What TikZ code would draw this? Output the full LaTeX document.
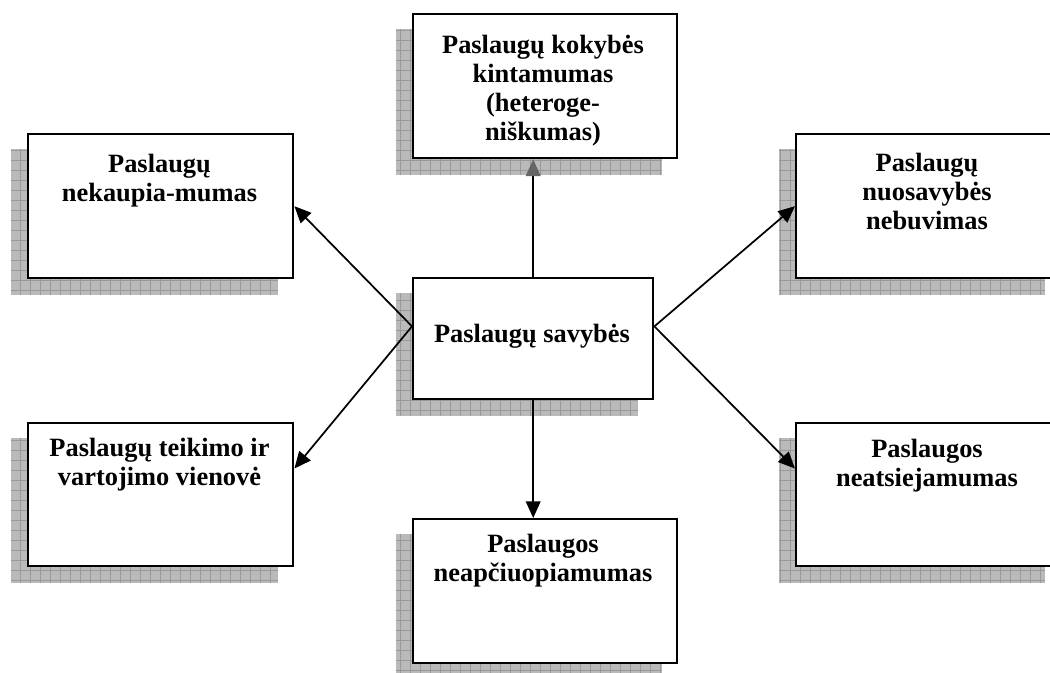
\documentclass[tikz,border=0pt]{standalone}
\usepackage{fontspec}
\setmainfont{Liberation Serif}
\usetikzlibrary{arrows.meta,calc}
\pgfdeclarelayer{background}
\pgfsetlayers{background,main}

\tikzset{
  box/.style={draw=black, line width=1.8pt, fill=white, inner sep=0pt, rectangle, anchor=north west},
  wide/.style={minimum width=198pt, minimum height=108pt},
  caption/.style={font=\fontsize{19.8pt}{21.75pt}\selectfont\bfseries, align=center, anchor=north, inner sep=0pt},
  link/.style={line width=1.3pt, -{Triangle[length=12.5pt,width=11pt]}},
  shadowfill/.style={fill=black!27},
  shadowgrid/.style={draw=black!40, line width=0.35pt},
}

\begin{document}
\begin{tikzpicture}[x=0.75pt,y=-0.75pt]
\useasboundingbox (0,0) rectangle (1050,672);
\clip (0,0) rectangle (1050,672);

% boxes
\node[box, wide] (bt) at (412,13) {};
\node[box, wide, minimum width=198.75pt] (lt) at (27,133) {};
\node[box, wide] (rt) at (795,133) {};
\node[box, minimum width=180pt, minimum height=90.75pt] (c) at (412,277) {};
\node[box, wide, minimum width=198.75pt, minimum height=107.25pt] (lb) at (27,422) {};
\node[box, wide, minimum height=107.25pt] (rb) at (795,422) {};
\node[box, wide] (bb) at (412,518) {};

% captions
\node[caption] (bt-t) at (543,35) {Paslaugų kokybės\\kintamumas\\(heteroge-\\niškumas)};
\node[caption] (lt-t) at (159.5,154) {Paslaugų\\nekaupia-mumas};
\node[caption] (rt-t) at (927,153) {Paslaugų\\nuosavybės\\nebuvimas};
\node[caption] (c-t) at (532,324) {Paslaugų savybės};
\node[caption] (lb-t) at (159.5,438) {Paslaugų teikimo ir\\vartojimo vienovė};
\node[caption] (rb-t) at (927,439) {Paslaugos\\neatsiejamumas};
\node[caption] (bb-t) at (543,534) {Paslaugos\\neapčiuopiamumas};

% connectors
\coordinate (cw) at ($(c.north west)!0.4!(c.south west)$);
\coordinate (ce) at ($(c.north east)!0.4!(c.south east)$);
\draw[line width=1.3pt, -{Triangle[length=12.5pt,width=11pt,color=black!60]}] (c.north) -- (c.north |- bt.south);
\draw[link] (c.south) -- (c.south |- bb.north);
\draw[link] (cw) -- (lt.east);
\draw[link] (cw) -- ($(lb.north east)!0.32!(lb.south east)$);
\draw[link] (ce) -- (rt.west);
\draw[link] (ce) -- ($(rb.north west)!0.32!(rb.south west)$);

% hatched drop shadows behind every box
\begin{pgfonlayer}{background}
\foreach \b in {bt,lt,rt,c,lb,rb,bb}{
  \begin{scope}
    \clip ([shift={(-16,16)}]\b.north west) rectangle ([shift={(-16,16)}]\b.south east);
    \fill[shadowfill] ([shift={(-16,16)}]\b.north west) rectangle ([shift={(-16,16)}]\b.south east);
    \draw[shadowgrid, step=7.5pt] ([shift={(-16,16)}]\b.north west) grid ([shift={(-16,16)}]\b.south east);
  \end{scope}
}
\end{pgfonlayer}
\end{tikzpicture}
\end{document}
